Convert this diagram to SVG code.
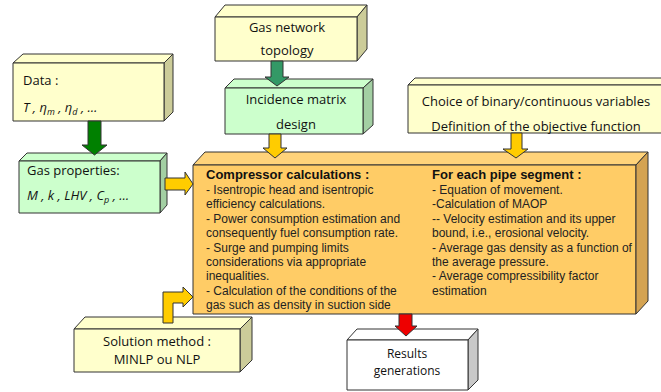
<svg xmlns="http://www.w3.org/2000/svg" width="661" height="392" viewBox="0 0 661 392">
<style>
.edge{stroke:#333;stroke-width:1;stroke-linejoin:round}
.yf{fill:#FFFFCC}.ys{fill:#CCCC99}
.gf{fill:#CCFFCC}.gs{fill:#A3CFA3}
.of{fill:#FFCC66}.ot{fill:#FFD37A}.os{fill:#D4A352}
.wf{fill:#FFFFFF}.ws{fill:#C8C8C8}
.lbl{font-family:"Open Sans","Liberation Sans",sans-serif;font-size:13px;fill:#111}
.mid{text-anchor:middle}
.it{font-style:italic}
.body{font-family:"Liberation Sans",Arial,sans-serif;font-size:12px;fill:#222}
.hd{font-family:"Liberation Sans",Arial,sans-serif;font-size:13px;font-weight:bold;fill:#111}
.arr{stroke:#333;stroke-width:1;stroke-linejoin:miter}
</style>
<rect width="661" height="392" fill="#FFFFFF"/>

<g id="data">
<polygon class="yf edge" points="13,63 23,54 173,54 164,63"/>
<polygon class="ys edge" points="164,63 173,54 173,112 164,121"/>
<rect class="yf edge" x="13" y="63" width="151" height="58"/>
<text class="lbl" x="23" y="85">Data :</text>
<text class="lbl it" x="23" y="112">T , η<tspan font-size="9" dy="3">m</tspan><tspan dy="-3"> , η</tspan><tspan font-size="9" dy="3">d</tspan><tspan dy="-3"> , …</tspan></text>
</g>

<g id="gas-properties">
<polygon class="gf edge" points="19,161 27,153 167,153 160,161"/>
<polygon class="gs edge" points="160,161 167,153 167,205 160,213"/>
<rect class="gf edge" x="19" y="161" width="141" height="52"/>
<text class="lbl" x="27" y="175">Gas properties:</text>
<text class="lbl it" x="27" y="200">M , k , LHV , C<tspan font-size="9" dy="3">p</tspan><tspan dy="-3"> , …</tspan></text>
</g>

<g id="gas-network">
<polygon class="yf edge" points="215,17 225,5 367,5 357,17"/>
<polygon class="ys edge" points="357,17 367,5 367,49 357,61"/>
<rect class="yf edge" x="215" y="17" width="142" height="44"/>
<text class="lbl mid" x="287" y="32">Gas network</text>
<text class="lbl mid" x="287" y="55">topology</text>
</g>

<g id="incidence">
<polygon class="gf edge" points="225,88 234,79 373,79 363,88"/>
<polygon class="gs edge" points="363,88 373,79 373,125 363,134"/>
<rect class="gf edge" x="225" y="88" width="138" height="46"/>
<text class="lbl mid" x="296" y="104">Incidence matrix</text>
<text class="lbl mid" x="296" y="129">design</text>
</g>

<g id="choice">
<polygon class="yf edge" points="408,85 415,78 668,78 661,85"/>
<rect class="yf edge" x="408" y="85" width="256" height="48"/>
<text class="lbl mid" x="536" y="106">Choice of binary/continuous variables</text>
<text class="lbl mid" x="536" y="131">Definition of the objective function</text>
</g>

<g id="calculations">
<polygon class="ot edge" points="193,165 205,152 648,152 636,165"/>
<rect class="of edge" x="193" y="165" width="443" height="149"/>
<text class="hd" x="206" y="179">Compressor calculations :</text>
<text class="body" x="206" y="194">- Isentropic head and isentropic</text>
<text class="body" x="206" y="208">efficiency calculations.</text>
<text class="body" x="206" y="223">- Power consumption estimation and</text>
<text class="body" x="206" y="237">consequently fuel consumption rate.</text>
<text class="body" x="206" y="252">- Surge and pumping limits</text>
<text class="body" x="206" y="266">considerations via appropriate</text>
<text class="body" x="206" y="280">inequalities.</text>
<text class="body" x="206" y="295">- Calculation of the conditions of the</text>
<text class="body" x="206" y="309">gas such as density in suction side</text>
<text class="hd" x="432" y="179">For each pipe segment :</text>
<text class="body" x="432" y="194">- Equation of movement.</text>
<text class="body" x="432" y="208">-Calculation of MAOP</text>
<text class="body" x="432" y="223">-- Velocity estimation and its upper</text>
<text class="body" x="432" y="237">bound, i.e.,  erosional velocity.</text>
<text class="body" x="432" y="252">- Average gas density as a function of</text>
<text class="body" x="432" y="266">the average pressure.</text>
<text class="body" x="432" y="280">- Average compressibility factor</text>
<text class="body" x="432" y="295">estimation</text>
<polygon class="os edge" points="636,165 648,152 648,301 636,314"/>
</g>

<g id="solution">
<polygon class="yf edge" points="74,329 85,317 252,317 240,329"/>
<polygon class="ys edge" points="240,329 252,317 252,360 240,372"/>
<rect class="yf edge" x="74" y="329" width="166" height="43"/>
<text class="lbl mid" x="157" y="346">Solution method :</text>
<text class="lbl mid" x="157" y="364">MINLP ou NLP</text>
</g>

<g id="results">
<polygon class="wf edge" points="347,340 357,329 478,329 468,340"/>
<polygon class="ws edge" points="468,340 478,329 478,380 468,390"/>
<rect class="wf edge" x="347" y="340" width="121" height="50"/>
<text class="lbl mid" x="407" y="358" style="font-size:12px">Results</text>
<text class="lbl mid" x="407" y="375" style="font-size:12px">generations</text>
</g>

<g id="connectors">
<polygon class="arr" fill="#008000" points="88,121 101,121 101,145 107,145 94.5,155 82,145 88,145"/>
<polygon class="arr" fill="#339966" points="271,61 283,61 283,77 289,77 277,86 265,77 271,77"/>
<polygon class="arr" fill="#FFCC00" points="269,134 281,134 281,148 287,148 275,158 263,148 269,148"/>
<polygon class="arr" fill="#FFCC00" points="511,133 522,133 522,149 528,149 516,158 503,149 511,149"/>
<polygon class="arr" fill="#FFCC00" points="165,178 185,178 185,172 193,184 185,195 185,190 165,190"/>
<polygon class="arr" fill="#FFCC00" points="163,323 163,292 183,292 183,287 193,297 183,307 183,303 173,303 173,323"/>
<polygon class="arr" fill="#EE0000" points="399,314 412,314 412,326 417,326 406,336 395,326 399,326"/>
</g>
</svg>
